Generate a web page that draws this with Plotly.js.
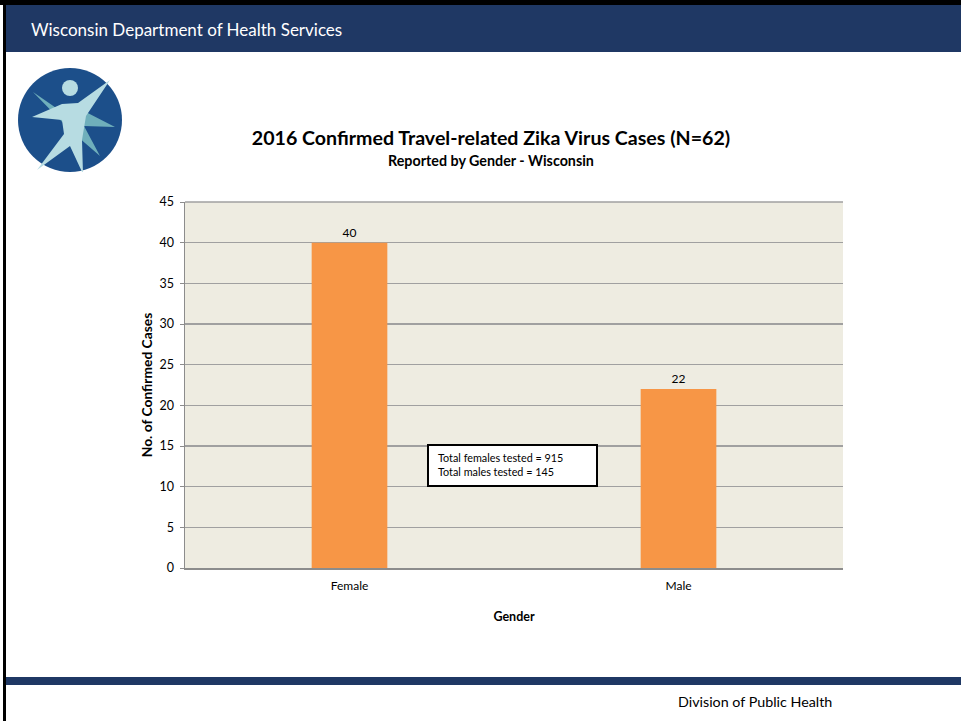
<!DOCTYPE html>
<html><head><meta charset="utf-8">
<script src="https://cdn.plot.ly/plotly-3.0.1.min.js"></script>
<style>html,body{margin:0;padding:0;background:#fff;}#chart{width:961px;height:721px;}</style>
</head><body><div id="chart"></div>
<script>
// ---- data ----
const categories = ["Female", "Male"];
const confirmedCases = [40, 22];
const yTickValues = [0, 5, 10, 15, 20, 25, 30, 35, 40, 45];
const chartTitle = "2016 Confirmed Travel-related Zika Virus Cases (N=62)";
const chartSubtitle = "Reported by Gender - Wisconsin";
const headerText = "Wisconsin Department of Health Services";
const footerText = "Division of Public Health";
const noteLines = ["Total females tested = 915", "Total males tested = 145"];

// ---- layout geometry (pixels) ----
const W = 961, H = 721;
const L = 185, R = 843, T = 202, B = 568;
const pw = R - L, ph = B - T;
const px = x => (x - L) / pw;
const py = y => (B - y) / ph;

const FONT = "Lato, 'Open Sans', sans-serif";
const navy = "#1F3864";

function rect(x0, y0, x1, y1, fill, line) {
  return {type: "rect", xref: "paper", yref: "paper", x0: px(x0), x1: px(x1), y0: py(y1), y1: py(y0),
          fillcolor: fill, line: line || {width: 0}, layer: "above"};
}

const logoSvg = `<svg xmlns="http://www.w3.org/2000/svg" width="104" height="104" viewBox="0 0 104 104">
<circle cx="52" cy="52" r="52" fill="#1C4F8A"/>
<path d="M15 24 L44 44 L60 40 L97 59 L66 58 L82 88 L52 62 Z" fill="#6FAFBB"/>
<path d="M92 12 L60 35 L44 36 L14 49 L44 52 L46 66 L19 102 L52 78 L65 106 L64 72 L68 48 Z" fill="#B7DCE2"/>
<circle cx="52" cy="20" r="8" fill="#B7DCE2"/>
</svg>`;
const logoSrc = "data:image/svg+xml;charset=utf-8," + encodeURIComponent(logoSvg);

const trace = {
  type: "bar",
  x: categories,
  y: confirmedCases,
  marker: {color: "#F79646", line: {width: 0}},
  text: confirmedCases.map(String),
  textposition: "outside",
  textfont: {family: FONT, size: 12, color: "#000"},
  cliponaxis: false,
  hoverinfo: "x+y"
};

const layout = {
  width: W, height: H,
  margin: {l: L, r: W - R, t: T, b: H - B, pad: 0},
  paper_bgcolor: "#FFFFFF",
  plot_bgcolor: "#EEECE1",
  showlegend: false,
  bargap: 0.77,
  font: {family: FONT, color: "#000"},
  title: {
    text: "<b>" + chartTitle + "</b>",
    font: {family: FONT, size: 19.6, color: "#000"},
    x: 491 / W, xanchor: "center", xref: "container",
    y: 1 - 138 / H, yanchor: "middle", yref: "container"
  },
  xaxis: {
    type: "category",
    showline: true, linecolor: "#8C8C8C", linewidth: 1.5,
    ticks: "", showgrid: false, zeroline: false,
    tickfont: {family: FONT, size: 12, color: "#000"},
    ticklabelstandoff: 6,
    title: {text: "<b>Gender</b>", font: {family: FONT, size: 12.5, color: "#000"}, standoff: 20}
  },
  yaxis: {
    range: [0, 45],
    tickvals: yTickValues,
    showline: true, linecolor: "#8C8C8C", linewidth: 1.5,
    ticks: "outside", ticklen: 4, tickcolor: "#8C8C8C",
    showgrid: true, gridcolor: "#A0A0A0", gridwidth: 1.5,
    zeroline: false,
    tickfont: {family: FONT, size: 12.5, color: "#000"},
    ticklabelstandoff: 3,
    title: {text: "<b>No. of Confirmed Cases</b>", font: {family: FONT, size: 13.8, color: "#000"}, standoff: 3}
  },
  shapes: [
    rect(0, 0, W, 5, "#000000"),
    rect(3, 0, 6, H, "#000000"),
    rect(6, 5, W, 52, navy),
    rect(6, 677, W, 685, navy),
    rect(428, 445, 597, 486, "#FFFFFF", {color: "#000000", width: 2}),
    {type: "line", xref: "paper", yref: "paper", x0: px(L), x1: px(R), y0: 1, y1: 1,
     line: {color: "#A0A0A0", width: 1.5}, layer: "below"}
  ],
  images: [{
    source: logoSrc, xref: "paper", yref: "paper",
    x: px(18), y: py(68), sizex: 104 / pw, sizey: 104 / ph,
    xanchor: "left", yanchor: "top", sizing: "stretch", layer: "above"
  }],
  annotations: [
    {text: headerText, xref: "paper", yref: "paper", x: px(29), y: py(29),
     xanchor: "left", yanchor: "middle", showarrow: false,
     font: {family: FONT, size: 17, color: "#FFFFFF"}},
    {text: footerText, xref: "paper", yref: "paper", x: px(834), y: py(701),
     xanchor: "right", yanchor: "middle", showarrow: false,
     font: {family: FONT, size: 14.3, color: "#000"}},
    {text: "<b>" + chartSubtitle + "</b>", xref: "paper", yref: "paper", x: px(491), y: py(160),
     xanchor: "center", yanchor: "middle", showarrow: false,
     font: {family: FONT, size: 14.3, color: "#000"}},
    {text: noteLines.join("<br>"), xref: "paper", yref: "paper",
     x: px(437), y: py(464), xanchor: "left", yanchor: "middle",
     align: "left", showarrow: false, borderpad: 0,
     font: {family: FONT, size: 10.8, color: "#000"}}
  ]
};

Plotly.newPlot("chart", [trace], layout, {displayModeBar: false, staticPlot: true});
</script>
</body></html>
